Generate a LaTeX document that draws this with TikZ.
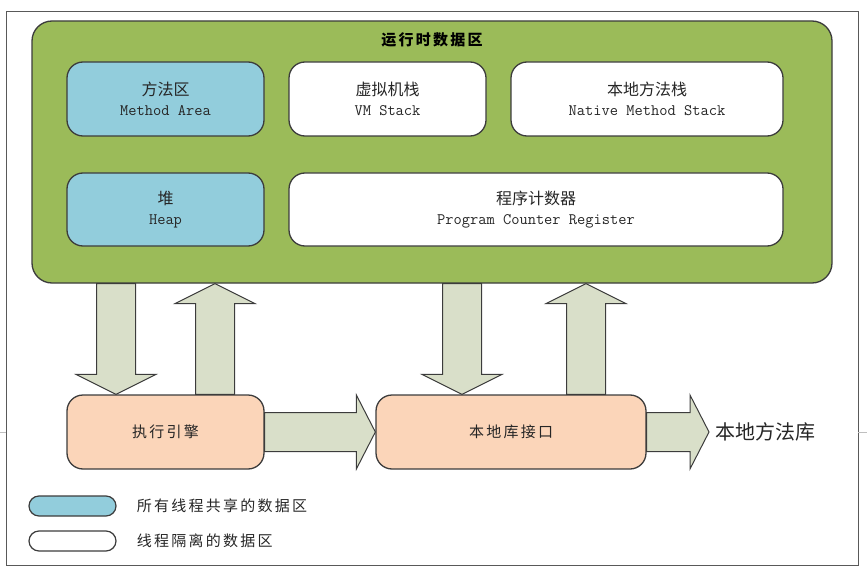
\documentclass[tikz,border=0pt]{standalone}
\usepackage{fontspec}
\newfontfamily\cjk{Noto Sans CJK SC}
\newfontfamily\cjkwide{Noto Sans CJK SC}[LetterSpace=15]
\usetikzlibrary{positioning,calc}

\definecolor{areagreen}{HTML}{9BBB59}
\definecolor{areablue}{HTML}{92CDDC}
\definecolor{enginepeach}{HTML}{FBD5B9}
\definecolor{arrowgray}{HTML}{D9DFC9}
\definecolor{linegray}{HTML}{3C3C3C}
\definecolor{textgray}{HTML}{262626}

% two lines of text in an area box
\newcommand{\twoline}[2]{#1\\{\ttfamily\fontsize{16}{20}\selectfont #2}}

% vertical block arrow: start, tip, signed head length
\newcommand{\blockv}[3]{%
  \draw[blockarrow] ([xshift=-19.5]#1) -- ([xshift=-19.5,yshift=#3]#2) -- ([xshift=-40,yshift=#3]#2) -- (#2)
    -- ([xshift=40,yshift=#3]#2) -- ([xshift=19.5,yshift=#3]#2) -- ([xshift=19.5]#1) -- cycle;}

% horizontal block arrow: start, tip
\newcommand{\blockh}[2]{%
  \draw[blockarrow] ([yshift=19.5]#1) -- ([xshift=-19,yshift=19.5]#2) -- ([xshift=-19,yshift=37]#2) -- (#2)
    -- ([xshift=-19,yshift=-37]#2) -- ([xshift=-19,yshift=-19.5]#2) -- ([yshift=-19.5]#1) -- cycle;}

\tikzset{
  runtime/.style={draw=linegray, line width=1.3pt, fill=areagreen, rounded corners=20, minimum width=800, minimum height=262},
  area/.style={draw=linegray, line width=1.3pt, rounded corners=16, minimum width=197, minimum height=74, align=center,
    text=textgray, font=\cjk\fontsize{16}{20}\selectfont},
  shared/.style={area, fill=areablue},
  private/.style={area, fill=white},
  engine/.style={area, fill=enginepeach, font=\cjkwide\fontsize{15}{20}\selectfont},
  blockarrow/.style={draw=linegray, line width=1pt, fill=arrowgray, line join=miter},
  keypill/.style={draw=linegray, line width=1.2pt, rounded corners=10, minimum width=87, minimum height=20},
  keytext/.style={inner sep=0pt, text=textgray, font=\cjkwide\fontsize{15}{20}\selectfont},
}

\begin{document}
\begin{tikzpicture}[x=1pt, y=-1pt]
\useasboundingbox (0,0) rectangle (867,572);
\draw[line width=1pt, draw=black!65] (6,12) rectangle (858,565);
\draw[line width=0.8pt, draw=black!25] (0,432) -- (6,432) (858,432) -- (867,432);

% runtime data area
\node[runtime] (rt) at (432,152) {};
\node[text=black, font=\cjkwide\bfseries\fontsize{15}{20}\selectfont] (rttitle) at (432,40) {运行时数据区};
\node[shared] (method) at (165.5,99) {\twoline{方法区}{Method Area}};
\node[private] (vm) at (387.5,99) {\twoline{虚拟机栈}{VM Stack}};
\node[private, minimum width=272] (nms) at (647,99) {\twoline{本地方法栈}{Native Method Stack}};
\node[shared, minimum height=73] (heap) at (165.5,209.5) {\twoline{堆}{Heap}};
\node[private, minimum width=494, minimum height=73] (pc) at (536,209.5) {\twoline{程序计数器}{Program Counter Register}};

% engine and native interface
\node[engine] (exec) at (165.5,432) {执行引擎};
\node[engine, minimum width=270] (jni) at (511,432) {本地库接口};
\node[anchor=west, text=textgray, font=\cjk\fontsize{20}{24}\selectfont] (lib) at (712,432) {本地方法库};
\coordinate (libtip) at ([xshift=-3pt]lib.west);

% block arrows
\coordinate (d1tip) at ([xshift=-49.5]exec.north);
\coordinate (d1top) at (d1tip |- rt.south);
\coordinate (u1base) at ([xshift=49.5]exec.north);
\coordinate (u1tip) at (u1base |- rt.south);
\coordinate (d2tip) at ([xshift=-49]jni.north);
\coordinate (d2top) at (d2tip |- rt.south);
\coordinate (u2base) at ([xshift=75]jni.north);
\coordinate (u2tip) at (u2base |- rt.south);
\blockv{d1top}{d1tip}{20}
\blockv{u1base}{u1tip}{-20}
\blockv{d2top}{d2tip}{20}
\blockv{u2base}{u2tip}{-20}
\blockh{exec.east}{jni.west}
\blockh{jni.east}{libtip}

% legend
\node[keypill, fill=areablue] (keyshared) at (72.5,506) {};
\node[keytext, right=20pt of keyshared] (keysharedtext) {所有线程共享的数据区};
\node[keypill, fill=white] (keyprivate) at (72.5,541) {};
\node[keytext, right=20pt of keyprivate] (keyprivatetext) {线程隔离的数据区};
\end{tikzpicture}
\end{document}
